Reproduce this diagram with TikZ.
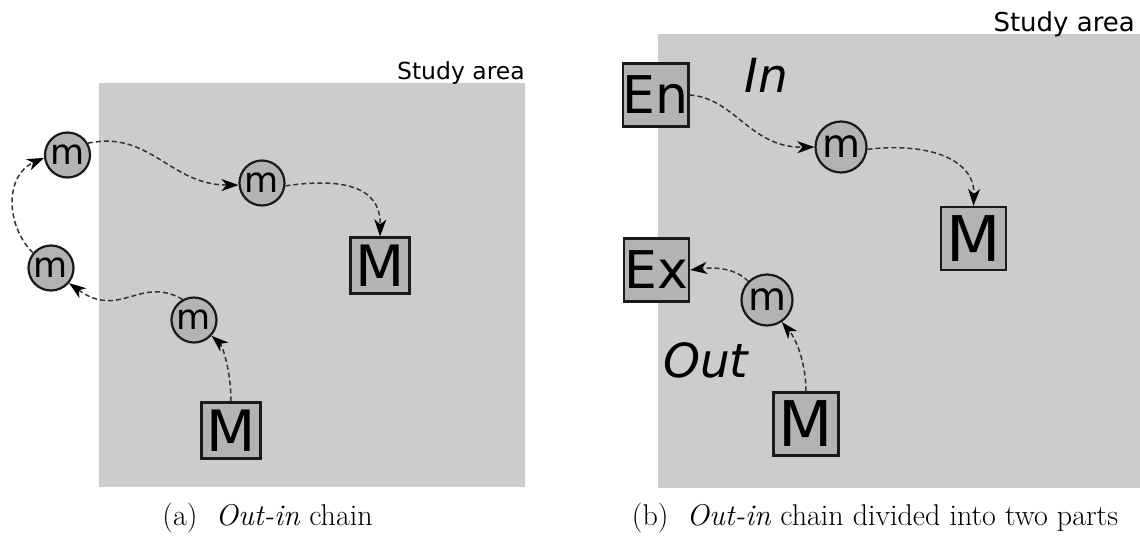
\documentclass[tikz,border=0pt]{standalone}
\usepackage{fontspec}
\usetikzlibrary{arrows.meta}
\newfontfamily\dvsans{DejaVu Sans}
\definecolor{areagray}{HTML}{CCCCCC}
\definecolor{nodegray}{HTML}{B3B3B3}
\definecolor{edgeblack}{HTML}{1A1A1A}
\begin{document}
\begin{tikzpicture}[x=1pt,y=-1pt,
  area/.style={fill=areagray,draw=none},
  arealabel/.style={anchor=base east,inner sep=0pt,font=\dvsans\fontsize{#1}{#1}\selectfont},
  mover/.style={circle,draw=edgeblack,fill=nodegray,line width=2.2pt,inner sep=0pt,
    minimum size=#1},
  mtext/.style={font=\dvsans\fontsize{#1}{#1}\selectfont},
  place/.style 2 args={rectangle,draw=edgeblack,fill=nodegray,line width=2.2pt,inner sep=0pt,
    minimum width=#1,minimum height=#2},
  ptext/.style={font=\dvsans\fontsize{#1}{#1}\selectfont},
  part/.style={anchor=base west,inner sep=0pt,font=\dvsans\itshape\fontsize{47}{47}\selectfont},
  conn/.style={draw=black!80,line width=1.5pt,dash pattern=on 5pt off 3pt,
    -{Stealth[length=17pt,width=12pt,inset=5pt,black]}},
  caption/.style={anchor=base,inner sep=0pt,font=\fontsize{30}{30}\selectfont}
]
\useasboundingbox (0,0) rectangle (1140,536);

% ---------- (a) out-in chain ----------
\fill[area] (99,83) rectangle (525,487);
\node[arealabel=23.5] (sa1) at (525,79) {Study area};

\node[mover=45pt,mtext=35] (m1) at (67.5,155) {m};
\node[mover=45pt,mtext=35] (m2) at (262,183) {m};
\node[mover=45pt,mtext=35] (m3) at (51,268) {m};
\node[mover=45pt,mtext=35] (m4) at (194,320) {m};
\node[place={59pt}{56pt},ptext=57] (Mt) at (380,265.5) {M};
\node[place={59pt}{56pt},ptext=57] (Mb) at (231,430.5) {M};

\draw[conn] (Mb.north) .. controls (231,370) and (222,345) .. (m4.-42);
\draw[conn] (m4.119) .. controls (140,275) and (120,320) .. (m3.-40);
\draw[conn] (m3.140) .. controls (5,225) and (5,175) .. (m1.187);
\draw[conn] (m1.30) .. controls (150,130) and (170,185) .. (m2.185);
\draw[conn] (m2.-7) .. controls (340,178) and (381,185) .. (Mt.north);

\node[caption] (capa) at (267.5,525) {(a)\ \ \textit{Out-in} chain};

% ---------- (b) out-in chain in two parts ----------
\fill[area] (658,34) rectangle (1140,488);
\node[arealabel=26] (sa2) at (1135,31) {Study area};

\node[place={65pt}{63pt},ptext=52] (En) at (655.5,95) {En};
\node[place={65pt}{63pt},ptext=52] (Ex) at (656.5,270) {Ex};
\node[place={65pt}{63pt},ptext=63] (Mr) at (973.5,238.5) {M};
\node[place={65pt}{63pt},ptext=63] (Ms) at (806,424) {M};
\node[mover=51pt,mtext=39] (n1) at (841,147) {m};
\node[mover=51pt,mtext=39] (n2) at (767,300) {m};

\node[part] (lin) at (744,92) {In};
\node[part] (lout) at (663,377) {Out};

\draw[conn] (En.east) .. controls (735,98) and (750,148) .. (n1.west);
\draw[conn] (n1.-5) .. controls (930,142) and (975,160) .. (Mr.north);
\draw[conn] (Ms.north) .. controls (806,365) and (797,340) .. (n2.-56);
\draw[conn] (n2.135) .. controls (735,268) and (715,267) .. (Ex.east);

\node[caption] (capb) at (875,525) {(b)\ \ \textit{Out-in} chain divided into two parts};
\end{tikzpicture}
\end{document}
